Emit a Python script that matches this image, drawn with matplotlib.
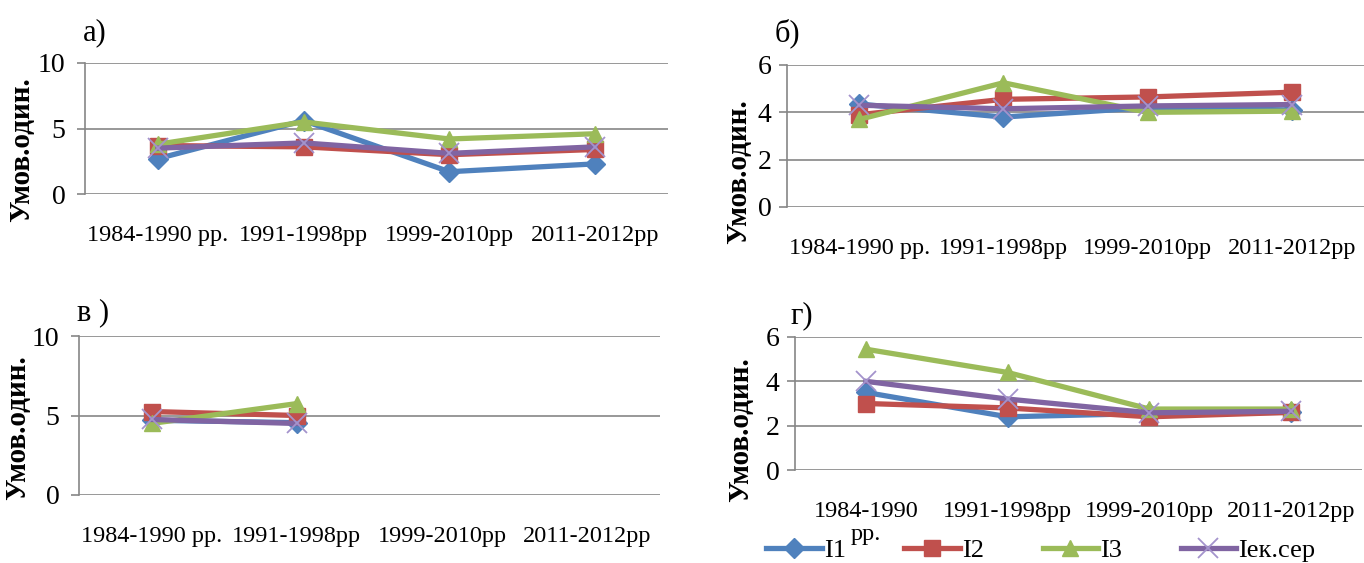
import numpy as np
import matplotlib
matplotlib.use("Agg")
import matplotlib.pyplot as plt
from matplotlib.lines import Line2D

plt.rcParams['font.family'] = ['Liberation Serif', 'DejaVu Serif']

categories = ["1984-1990 рр.", "1991-1998рр", "1999-2010рр", "2011-2012рр"]
categories_g = ["1984-1990\nрр.", "1991-1998рр", "1999-2010рр", "2011-2012рр"]
series_names = ["I1", "I2", "I3", "Iек.сер"]

# panel а)
a_I1 = [2.7, 5.6, 1.7, 2.3]
a_I2 = [3.7, 3.6, 3.0, 3.4]
a_I3 = [3.8, 5.5, 4.2, 4.6]
a_Iek = [3.5, 3.9, 3.1, 3.6]
# panel б)
b_I1 = [4.35, 3.8, 4.2, 4.1]
b_I2 = [3.9, 4.55, 4.65, 4.85]
b_I3 = [3.7, 5.25, 4.0, 4.05]
b_Iek = [4.3, 4.15, 4.27, 4.33]
# panel в)
v_I1 = [4.7, 4.55, np.nan, np.nan]
v_I2 = [5.25, 5.0, np.nan, np.nan]
v_I3 = [4.5, 5.75, np.nan, np.nan]
v_Iek = [4.75, 4.5, np.nan, np.nan]
# panel г)
g_I1 = [3.5, 2.4, 2.55, 2.6]
g_I2 = [3.0, 2.8, 2.4, 2.6]
g_I3 = [5.45, 4.4, 2.75, 2.75]
g_Iek = [4.0, 3.2, 2.58, 2.65]

colors = ["#4F81BD", "#C0504D", "#9BBB59", "#8064A2"]
markers = ["D", "s", "^", "x"]
msizes = [10, 11, 11.5, 14]

W, H = 1364, 563
fig = plt.figure(figsize=(W / 100, H / 100), dpi=100)

def add_ax(left, right, top, bottom):
    return fig.add_axes([left / W, 1 - bottom / H, (right - left) / W, (bottom - top) / H])

def style_kw(c, m, ms):
    if m == "x":
        return dict(color=c, lw=3.8, marker=m, ms=ms, mew=1.3, mec="#A493CC")
    return dict(color=c, lw=3.8, marker=m, ms=ms, mec=c)

def draw(ax, data, ylim, yticks, labels, letter, letter_xy, ylabel_xy, ypad):
    x = np.arange(len(labels))
    for vals, c, m, ms in zip(data, colors, markers, msizes):
        ax.plot(x, vals, clip_on=False, zorder=3, **style_kw(c, m, ms))
    ax.set_xlim(-0.5, len(labels) - 0.5)
    ax.set_ylim(*ylim)
    ax.set_yticks(yticks)
    ax.set_xticks(x)
    ax.set_xticklabels(labels, fontsize=17.5, linespacing=1.15)
    ax.tick_params(axis='y', labelsize=20, length=6, color="#868686", width=1.2, pad=ypad)
    ax.tick_params(axis='x', length=0, pad=22)
    ax.grid(axis='y', color="#868686", lw=1.2)
    ax.set_axisbelow(True)
    for s in ["top", "right", "bottom"]:
        ax.spines[s].set_visible(False)
    ax.spines["left"].set_color("#868686")
    ax.spines["left"].set_linewidth(1.2)
    fig.text(letter_xy[0] / W, 1 - letter_xy[1] / H, letter, fontsize=22,
             ha='left', va='center')
    fig.text(ylabel_xy[0] / W, 1 - ylabel_xy[1] / H, "Умов.один.", fontsize=21,
             fontweight='bold', rotation=90, ha='center', va='center')

ax_a = add_ax(85, 668, 63, 194)
draw(ax_a, [a_I1, a_I2, a_I3, a_Iek], (0, 10), [0, 5, 10], categories,
     "а)", (83, 33), (22, 150), 8)

ax_b = add_ax(787, 1364, 65, 207)
draw(ax_b, [b_I1, b_I2, b_I3, b_Iek], (0, 6), [0, 2, 4, 6], categories,
     "б)", (775, 33), (739, 172), 5)

ax_v = add_ax(79, 660, 336, 495)
draw(ax_v, [v_I1, v_I2, v_I3, v_Iek], (0, 10), [0, 5, 10], categories,
     "в )", (77, 313), (18, 428), 8)

ax_g = add_ax(795, 1362, 337, 470)
draw(ax_g, [g_I1, g_I2, g_I3, g_Iek], (0, 6), [0, 2, 4, 6], categories_g,
     "г)", (790, 316), (741, 430), 5)

handles = [Line2D([], [], **style_kw(c, m, ms)) for c, m, ms in zip(colors, markers, msizes)]
fig.legend(handles, series_names, loc='center', bbox_to_anchor=(1041 / W, 1 - 550 / H),
           ncol=4, frameon=False, fontsize=19, handlelength=2.1, columnspacing=2.2,
           handletextpad=0.1, borderaxespad=0, borderpad=0)

fig.savefig("out.png", dpi=100)
